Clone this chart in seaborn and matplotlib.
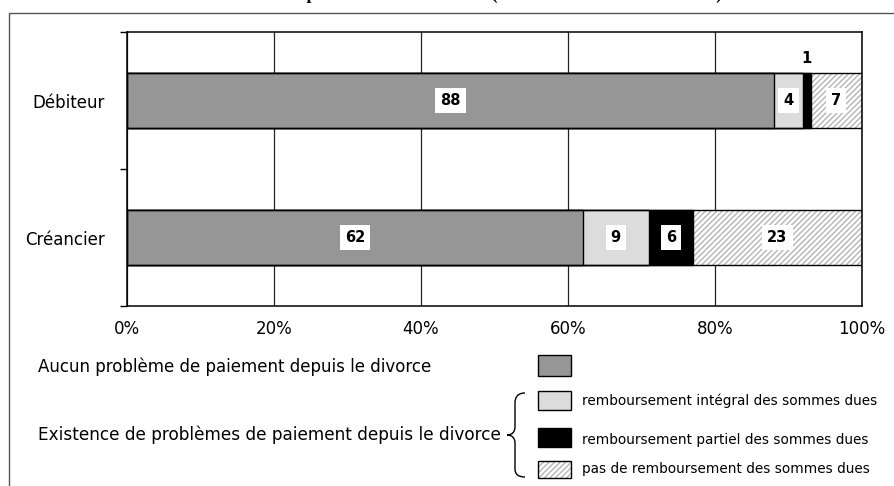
import matplotlib
matplotlib.use("Agg")
import matplotlib.pyplot as plt
from matplotlib.patches import Rectangle, PathPatch
from matplotlib.path import Path
import pandas as pd
import seaborn as sns

# data (percentages)
roles = ["Débiteur", "Créancier"]
aucun_probleme = [88, 62]
remb_integral = [4, 9]
remb_partiel = [1, 6]
pas_remb = [7, 23]
x_ticks = [0, 20, 40, 60, 80, 100]
x_tick_labels = ["0%", "20%", "40%", "60%", "80%", "100%"]
main_labels = ["Aucun problème de paiement depuis le divorce",
               "Existence de problèmes de paiement depuis le divorce"]
sub_labels = ["remboursement intégral des sommes dues",
              "remboursement partiel des sommes dues",
              "pas de remboursement des sommes dues"]
title = "Problèmes de paiement selon le statut (en % des divorcés concernés)"

gray = "#969696"
light = "#dcdcdc"
black = "#000000"
hatch_col = "#b4b4b4"

df = pd.DataFrame({"role": roles, "aucun": aucun_probleme, "integral": remb_integral,
                   "partiel": remb_partiel, "pas": pas_remb})
df["c1"] = df["aucun"]
df["c2"] = df["c1"] + df["integral"]
df["c3"] = df["c2"] + df["partiel"]
df["c4"] = df["c3"] + df["pas"]

sns.set_style("white")
plt.rcParams["font.family"] = ["DejaVu Sans"]
plt.rcParams["text.color"] = "black"
plt.rcParams["xtick.color"] = "black"
plt.rcParams["ytick.color"] = "black"
plt.rcParams["hatch.linewidth"] = 1.0

W, H = 894, 486
fig = plt.figure(figsize=(W / 100, H / 100), dpi=100)

# overlay for frame, legend and brace (pixel coordinates)
ov = fig.add_axes([0, 0, 1, 1])
ov.set_xlim(0, W)
ov.set_ylim(H, 0)
ov.axis("off")
ov.add_patch(Rectangle((9, 13), 1000, 1000, fill=False, edgecolor="#555555", lw=1))

ax = fig.add_axes([127 / W, (H - 306) / H, 735 / W, 274 / H])

# stacked bars drawn as overlapping cumulative layers
sns.barplot(data=df, x="c4", y="role", orient="h", width=0.4, saturation=1,
            color="white", edgecolor=hatch_col, linewidth=0, hatch="//////", ax=ax)
sns.barplot(data=df, x="c3", y="role", orient="h", width=0.4, saturation=1,
            color=black, edgecolor="black", linewidth=1, ax=ax)
sns.barplot(data=df, x="c2", y="role", orient="h", width=0.4, saturation=1,
            color=light, edgecolor="black", linewidth=1, ax=ax)
sns.barplot(data=df, x="c1", y="role", orient="h", width=0.4, saturation=1,
            color=gray, edgecolor="black", linewidth=1, ax=ax)
sns.barplot(data=df, x="c4", y="role", orient="h", width=0.4, saturation=1,
            fill=False, color="black", linewidth=1, ax=ax)

ax.set_xlim(0, 100)
ax.set_ylim(1.5, -0.5)
ax.set_xticks(x_ticks)
ax.set_xticklabels(x_tick_labels, fontsize=12)
ax.set_yticks([-0.5, 0.5, 1.5], minor=True)
ax.tick_params(axis="y", which="minor", length=5, width=1, color="black", left=True)
ax.tick_params(axis="y", which="major", length=0, pad=16, labelsize=12)
ax.tick_params(axis="x", length=0, pad=10)
ax.set_xlabel("")
ax.set_ylabel("")
ax.grid(axis="x", color="#222222", lw=0.9)
ax.set_axisbelow(True)
for s in ax.spines.values():
    s.set_visible(True)
    s.set_color("black")
    s.set_linewidth(1.1)

# value labels
for i, row in df.iterrows():
    starts = [0, row["c1"], row["c2"], row["c3"]]
    vals = [row["aucun"], row["integral"], row["partiel"], row["pas"]]
    for st, v in zip(starts, vals):
        xc = st + v / 2
        if v < 2:
            ax.text(xc, i - 0.31, f"{v}", ha="center", va="center",
                    fontsize=10.5, fontweight="bold")
        else:
            ax.text(xc, i, f"{v}", ha="center", va="center", fontsize=10.5,
                    fontweight="bold",
                    bbox=dict(boxstyle="square,pad=0.35", fc="white", ec="none"))

# legend
ov.text(38, 367, main_labels[0], fontsize=12, va="center")
ov.text(38, 435, main_labels[1], fontsize=12.2, va="center")
ov.add_patch(Rectangle((538, 355), 33, 21, facecolor=gray, edgecolor="black", lw=1))
ov.add_patch(Rectangle((538, 391), 33, 19, facecolor=light, edgecolor="black", lw=1))
ov.add_patch(Rectangle((538, 428), 33, 19, facecolor=black, edgecolor="black", lw=1))
ov.add_patch(Rectangle((538, 461), 33, 17, facecolor="white", edgecolor=hatch_col,
                       lw=0, hatch="//////"))
ov.add_patch(Rectangle((538, 461), 33, 17, fill=False, edgecolor="black", lw=1))
for yy, lab in zip([401, 440, 469], sub_labels):
    ov.text(582, yy, lab, fontsize=9.8, va="center")

verts = [(525, 393), (518, 393), (515, 397), (515, 403), (515, 427),
         (515, 432), (512, 435), (507, 435),
         (512, 435), (515, 438), (515, 443), (515, 469),
         (515, 474), (518, 477), (525, 477)]
codes = [Path.MOVETO, Path.CURVE4, Path.CURVE4, Path.CURVE4, Path.LINETO,
         Path.CURVE4, Path.CURVE4, Path.CURVE4,
         Path.CURVE4, Path.CURVE4, Path.CURVE4, Path.LINETO,
         Path.CURVE4, Path.CURVE4, Path.CURVE4]
ov.add_patch(PathPatch(Path(verts, codes), fill=False, edgecolor="black", lw=1))

# title, mostly cut off at the top edge as in the source
fig.text(0.515, 1.002, title, ha="center", va="baseline", fontsize=13,
         fontweight="bold", family="Liberation Serif")

fig.savefig("out.png", dpi=100)
